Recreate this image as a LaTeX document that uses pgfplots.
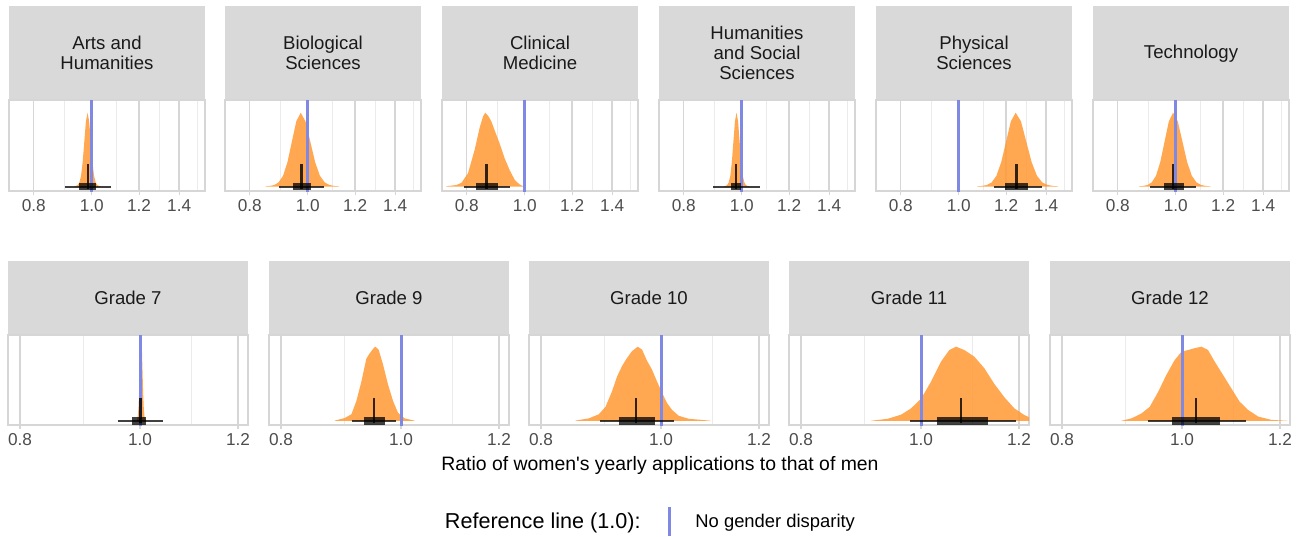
\documentclass[border=0pt]{standalone}
\usepackage{fontspec}
\setmainfont{Liberation Sans}
\usepackage{pgfplots}
\pgfplotsset{compat=1.18}
\definecolor{stripcol}{HTML}{D9D9D9}
\definecolor{gridmaj}{HTML}{D6D6D6}
\definecolor{gridmin}{HTML}{EBEBEB}
\definecolor{bordercol}{HTML}{D6D6D6}
\definecolor{tickcol}{HTML}{4D4D4D}
\definecolor{striptext}{HTML}{1A1A1A}
\definecolor{slabcol}{HTML}{FF9933}
\definecolor{refblue}{HTML}{7F88E3}
\pgfplotsset{
 panelcommon/.style={scale only axis, ytick=\empty, xtick pos=left, tick align=outside,
   major tick length=2pt, minor tick length=0pt, xmajorgrids, xminorgrids,
   major grid style={draw=gridmaj, line width=0.7pt},
   minor grid style={draw=gridmin, line width=0.5pt},
   axis line style={draw=bordercol, line width=0.6pt},
   xtick style={draw=bordercol, line width=0.6pt},
   xticklabel style={font=\fontsize{8.6}{9}\selectfont, text=tickcol, inner sep=2pt},
   anchor=north west, clip=true},
 slab/.style={draw=none, fill=slabcol, fill opacity=0.85, mark=none},
 refl/.style={draw=refblue, line width=1.5pt, mark=none},
 ivthin/.style={draw=black, draw opacity=0.75, line width=1pt, mark=none},
 ivthick/.style={draw=black, draw opacity=0.75, line width=3.8pt, mark=none},
 ivmed/.style={draw=black, draw opacity=0.8, line width=1.2pt, mark=none},
}
\begin{document}
\begin{tikzpicture}
\useasboundingbox (0,0) rectangle (650.5pt,-268pt);
\foreach \xx in {4.5,112.5,221,329.5,438,546.5}{\fill[stripcol] (\xx pt,-3pt) rectangle ++(98pt,-47pt);}
\foreach \xx in {4,134.5,264.5,394.5,525}{\fill[stripcol] (\xx pt,-130.5pt) rectangle ++(120pt,-37pt);}
\begin{scope}[every node/.style={font=\fontsize{9.3}{10}\selectfont, text=striptext, align=center, inner sep=0pt}]
\node at (53.5pt,-26.5pt) {Arts and\\Humanities};
\node at (161.5pt,-26.5pt) {Biological\\Sciences};
\node at (270pt,-26.5pt) {Clinical\\Medicine};
\node at (378.5pt,-26.5pt) {Humanities\\and Social\\Sciences};
\node at (487pt,-26.5pt) {Physical\\Sciences};
\node at (595.5pt,-27pt) {Technology};
\node at (64pt,-149pt) {Grade 7};
\node at (194.5pt,-149pt) {Grade 9};
\node at (324.5pt,-149pt) {Grade 10};
\node at (454.5pt,-149pt) {Grade 11};
\node at (585pt,-149pt) {Grade 12};
\end{scope}

% Arts and Humanities
\begin{axis}[xmode=log, panelcommon, width=98pt, height=45.5pt, xmin=0.7275, xmax=1.5462, ymin=-0.061, ymax=1.172, xtick={0.8,1,1.2,1.4}, xticklabels={0.8,1.0,1.2,1.4}, minor xtick={0.9,1.1,1.3,1.5}, at={(4.5pt,-50pt)}]
\addplot[slab] coordinates {(0.9361,0.002) (0.9420,0.008) (0.9479,0.02) (0.9538,0.055) (0.9598,0.145) (0.9658,0.33) (0.9719,0.6065) (0.9779,0.8825) (0.9841,1) (0.9902,0.8825) (0.9965,0.6065) (1.0028,0.33) (1.0090,0.145) (1.0154,0.055) (1.0217,0.02) (1.0282,0.008) (1.0346,0.002)} \closedcycle;
\addplot[refl] coordinates {(1,-0.2) (1,1.3)};
\addplot[ivthin] coordinates {(0.902,0) (1.077,0)};
\addplot[ivthick] coordinates {(0.952,0) (1.017,0)};
\addplot[ivmed] coordinates {(0.986,-0.03) (0.986,0.31)};
\end{axis}
% Biological Sciences
\begin{axis}[xmode=log, panelcommon, width=98pt, height=45.5pt, xmin=0.7275, xmax=1.5462, ymin=-0.061, ymax=1.172, xtick={0.8,1,1.2,1.4}, xticklabels={0.8,1.0,1.2,1.4}, minor xtick={0.9,1.1,1.3,1.5}, at={(112.5pt,-50pt)}]
\addplot[slab] coordinates {(0.8496,0.002) (0.8642,0.008) (0.8790,0.02) (0.8940,0.055) (0.9094,0.145) (0.9250,0.33) (0.9408,0.6065) (0.9570,0.8825) (0.9734,1) (0.9915,0.8825) (1.0101,0.6065) (1.0289,0.33) (1.0481,0.145) (1.0677,0.055) (1.0876,0.02) (1.1079,0.008) (1.1286,0.002)} \closedcycle;
\addplot[refl] coordinates {(1,-0.2) (1,1.3)};
\addplot[ivthin] coordinates {(0.897,0) (1.066,0)};
\addplot[ivthick] coordinates {(0.944,0) (1.013,0)};
\addplot[ivmed] coordinates {(0.976,-0.03) (0.976,0.31)};
\end{axis}
% Clinical Medicine
\begin{axis}[xmode=log, panelcommon, width=98pt, height=45.5pt, xmin=0.7275, xmax=1.5462, ymin=-0.061, ymax=1.172, xtick={0.8,1,1.2,1.4}, xticklabels={0.8,1.0,1.2,1.4}, minor xtick={0.9,1.1,1.3,1.5}, at={(221pt,-50pt)}]
\addplot[slab] coordinates {(0.740,0.004) (0.769,0.02) (0.784,0.05) (0.804,0.18) (0.825,0.50) (0.841,0.80) (0.852,0.95) (0.859,1) (0.8687,0.96) (0.8798,0.88) (0.891,0.76) (0.9083,0.58) (0.926,0.38) (0.944,0.22) (0.9623,0.09) (0.981,0.025) (0.9938,0.005)} \closedcycle;
\addplot[refl] coordinates {(1,-0.2) (1,1.3)};
\addplot[ivthin] coordinates {(0.792,0) (0.944,0)};
\addplot[ivthick] coordinates {(0.828,0) (0.903,0)};
\addplot[ivmed] coordinates {(0.863,-0.03) (0.863,0.31)};
\end{axis}
% Humanities and Social Sciences
\begin{axis}[xmode=log, panelcommon, width=98pt, height=45.5pt, xmin=0.7275, xmax=1.5462, ymin=-0.061, ymax=1.172, xtick={0.8,1,1.2,1.4}, xticklabels={0.8,1.0,1.2,1.4}, minor xtick={0.9,1.1,1.3,1.5}, at={(329.5pt,-50pt)}]
\addplot[slab] coordinates {(0.9343,0.002) (0.9399,0.008) (0.9455,0.02) (0.9512,0.055) (0.9570,0.145) (0.9627,0.33) (0.9685,0.6065) (0.9743,0.8825) (0.9802,1) (0.9861,0.8825) (0.9920,0.6065) (0.9980,0.33) (1.0040,0.145) (1.0101,0.055) (1.0161,0.02) (1.0222,0.008) (1.0284,0.002)} \closedcycle;
\addplot[refl] coordinates {(1,-0.2) (1,1.3)};
\addplot[ivthin] coordinates {(0.897,0) (1.071,0)};
\addplot[ivthick] coordinates {(0.960,0) (0.998,0)};
\addplot[ivmed] coordinates {(0.979,-0.03) (0.979,0.31)};
\end{axis}
% Physical Sciences
\begin{axis}[xmode=log, panelcommon, width=98pt, height=45.5pt, xmin=0.7275, xmax=1.5462, ymin=-0.061, ymax=1.172, xtick={0.8,1,1.2,1.4}, xticklabels={0.8,1.0,1.2,1.4}, minor xtick={0.9,1.1,1.3,1.5}, at={(438pt,-50pt)}]
\addplot[slab] coordinates {(1.0736,0.002) (1.0936,0.008) (1.1140,0.02) (1.1349,0.055) (1.1560,0.145) (1.1776,0.33) (1.1996,0.6065) (1.2220,0.8825) (1.2448,1) (1.2706,0.8825) (1.2969,0.6065) (1.3238,0.33) (1.3512,0.145) (1.3792,0.055) (1.4078,0.02) (1.4369,0.008) (1.4667,0.002)} \closedcycle;
\addplot[refl] coordinates {(1,-0.2) (1,1.3)};
\addplot[ivthin] coordinates {(1.144,0) (1.375,0)};
\addplot[ivthick] coordinates {(1.197,0) (1.306,0)};
\addplot[ivmed] coordinates {(1.248,-0.03) (1.248,0.31)};
\end{axis}
% Technology
\begin{axis}[xmode=log, panelcommon, width=98pt, height=45.5pt, xmin=0.7275, xmax=1.5462, ymin=-0.061, ymax=1.172, xtick={0.8,1,1.2,1.4}, xticklabels={0.8,1.0,1.2,1.4}, minor xtick={0.9,1.1,1.3,1.5}, at={(546.5pt,-50pt)}]
\addplot[slab] coordinates {(0.8676,0.002) (0.8821,0.008) (0.8967,0.02) (0.9117,0.055) (0.9268,0.145) (0.9422,0.33) (0.9579,0.6065) (0.9738,0.8825) (0.9900,1) (1.0080,0.8825) (1.0263,0.6065) (1.0450,0.33) (1.0640,0.145) (1.0833,0.055) (1.1030,0.02) (1.1230,0.008) (1.1434,0.002)} \closedcycle;
\addplot[refl] coordinates {(1,-0.2) (1,1.3)};
\addplot[ivthin] coordinates {(0.907,0) (1.083,0)};
\addplot[ivthick] coordinates {(0.955,0) (1.031,0)};
\addplot[ivmed] coordinates {(0.990,-0.03) (0.990,0.31)};
\end{axis}

% Grade 7
\begin{axis}[xmode=log, panelcommon, width=120pt, height=45pt, xmin=0.7824, xmax=1.2223, ymin=-0.054, ymax=1.157, xtick={0.8,1,1.2}, xticklabels={0.8,1.0,1.2}, minor xtick={0.9,1.1}, at={(4pt,-167.5pt)}]
\addplot[slab] coordinates {(0.99203,0.002) (0.99327,0.009) (0.99452,0.023) (0.99576,0.063) (0.99700,0.165) (0.99825,0.376) (0.99950,0.691) (1.00075,1.006) (1.00200,1.14) (1.00326,1.006) (1.00451,0.691) (1.00577,0.376) (1.00702,0.165) (1.00828,0.063) (1.00955,0.023) (1.01081,0.009) (1.01207,0.002)} \closedcycle;
\addplot[refl] coordinates {(1,-0.2) (1,1.3)};
\addplot[ivthin] coordinates {(0.959,0) (1.044,0)};
\addplot[ivthick] coordinates {(0.986,0) (1.012,0)};
\addplot[ivmed] coordinates {(1.001,-0.03) (1.001,0.31)};
\end{axis}
% Grade 9
\begin{axis}[xmode=log, panelcommon, width=120pt, height=45pt, xmin=0.7824, xmax=1.2223, ymin=-0.054, ymax=1.157, xtick={0.8,1,1.2}, xticklabels={0.8,1.0,1.2}, minor xtick={0.9,1.1}, at={(134.5pt,-167.5pt)}]
\addplot[slab] coordinates {(0.8839,0.005) (0.9005,0.04) (0.9118,0.09) (0.9203,0.27) (0.9289,0.53) (0.9375,0.84) (0.9433,0.91) (0.9493,0.97) (0.9533,1) (0.9592,0.96) (0.9671,0.76) (0.9761,0.49) (0.9852,0.27) (0.9944,0.11) (1.0067,0.035) (1.0256,0.005)} \closedcycle;
\addplot[refl] coordinates {(1,-0.2) (1,1.3)};
\addplot[ivthin] coordinates {(0.912,0) (0.991,0)};
\addplot[ivthick] coordinates {(0.933,0) (0.970,0)};
\addplot[ivmed] coordinates {(0.951,-0.03) (0.951,0.31)};
\end{axis}
% Grade 10
\begin{axis}[xmode=log, panelcommon, width=120pt, height=45pt, xmin=0.7824, xmax=1.2223, ymin=-0.054, ymax=1.157, xtick={0.8,1,1.2}, xticklabels={0.8,1.0,1.2}, minor xtick={0.9,1.1}, at={(264.5pt,-167.5pt)}]
\addplot[slab] coordinates {(0.8529,0.005) (0.8742,0.035) (0.8906,0.09) (0.9018,0.19) (0.9129,0.40) (0.9215,0.60) (0.9301,0.74) (0.9388,0.85) (0.9475,0.94) (0.9576,1) (0.9653,0.96) (0.9743,0.81) (0.9834,0.69) (0.9926,0.53) (1.0019,0.38) (1.0113,0.24) (1.0206,0.15) (1.0334,0.07) (1.0528,0.03) (1.0961,0.004)} \closedcycle;
\addplot[refl] coordinates {(1,-0.2) (1,1.3)};
\addplot[ivthin] coordinates {(0.892,0) (1.025,0)};
\addplot[ivthick] coordinates {(0.924,0) (0.988,0)};
\addplot[ivmed] coordinates {(0.955,-0.03) (0.955,0.31)};
\end{axis}
% Grade 11
\begin{axis}[xmode=log, panelcommon, width=120pt, height=45pt, xmin=0.7824, xmax=1.2223, ymin=-0.054, ymax=1.157, xtick={0.8,1,1.2}, xticklabels={0.8,1.0,1.2}, minor xtick={0.9,1.1}, at={(394.5pt,-167.5pt)}]
\addplot[slab] coordinates {(0.9113,0.003) (0.9400,0.03) (0.9635,0.085) (0.9816,0.17) (1.0,0.30) (1.0188,0.53) (1.0379,0.80) (1.0540,0.955) (1.0673,1) (1.0838,0.955) (1.1042,0.865) (1.1249,0.71) (1.1459,0.50) (1.1675,0.32) (1.1894,0.17) (1.2117,0.08) (1.2230,0.05) (1.24,0.025) (1.27,0.008)} \closedcycle;
\addplot[refl] coordinates {(1,-0.2) (1,1.3)};
\addplot[ivthin] coordinates {(0.980,0) (1.193,0)};
\addplot[ivthick] coordinates {(1.030,0) (1.132,0)};
\addplot[ivmed] coordinates {(1.077,-0.03) (1.077,0.31)};
\end{axis}
% Grade 12
\begin{axis}[xmode=log, panelcommon, width=120pt, height=45pt, xmin=0.7824, xmax=1.2223, ymin=-0.054, ymax=1.157, xtick={0.8,1,1.2}, xticklabels={0.8,1.0,1.2}, minor xtick={0.9,1.1}, at={(525pt,-167.5pt)}]
\addplot[slab] coordinates {(0.8933,0.003) (0.9101,0.035) (0.9271,0.10) (0.9416,0.19) (0.9564,0.39) (0.9712,0.62) (0.9863,0.82) (0.9987,0.93) (1.0112,0.955) (1.0237,0.98) (1.0366,1) (1.0495,0.955) (1.0625,0.80) (1.0792,0.62) (1.0959,0.44) (1.1130,0.26) (1.1305,0.15) (1.1518,0.06) (1.1806,0.015) (1.2177,0.002)} \closedcycle;
\addplot[refl] coordinates {(1,-0.2) (1,1.3)};
\addplot[ivthin] coordinates {(0.938,0) (1.127,0)};
\addplot[ivthick] coordinates {(0.982,0) (1.074,0)};
\addplot[ivmed] coordinates {(1.026,-0.03) (1.026,0.31)};
\end{axis}

\node[font=\fontsize{9.7}{11}\selectfont, inner sep=0pt] at (330pt,-232.5pt) {Ratio of women\textquotesingle s yearly applications to that of men};
\node[font=\fontsize{10.8}{12}\selectfont, anchor=east, inner sep=0pt] at (320.5pt,-261.5pt) {Reference line (1.0):};
\draw[refblue, line width=1.5pt] (334.5pt,-253.5pt) -- (334.5pt,-268pt);
\node[font=\fontsize{9.2}{10}\selectfont, anchor=west, inner sep=0pt] at (347.5pt,-261.5pt) {No gender disparity};
\end{tikzpicture}
\end{document}
